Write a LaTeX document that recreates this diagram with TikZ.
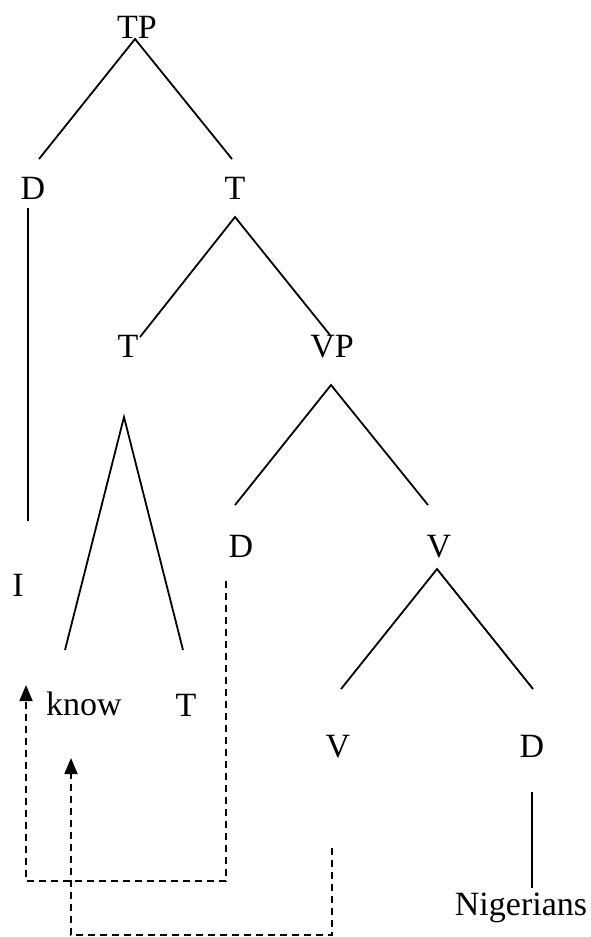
\documentclass[tikz,border=0pt]{standalone}
\usepackage{fontspec}
\setmainfont{Liberation Serif}
\usetikzlibrary{arrows.meta}
\begin{document}
\begin{tikzpicture}[x=1pt,y=-1pt,
  lab/.style={anchor=base,inner sep=0pt,font=\fontsize{34}{40}\selectfont},
  branch/.style={line width=1.8pt},
  movement/.style={line width=1.8pt,dash pattern=on 7pt off 5pt,-{Triangle[length=16pt,width=13pt]}}]
\useasboundingbox (0,0) rectangle (590,937);
% labels
\node[lab] (TP) at (137,38) {TP};
\node[lab] (D1) at (33,199) {D};
\node[lab] (T1) at (235,199) {T};
\node[lab] (T2) at (128,357) {T};
\node[lab] (VP) at (332,357) {VP};
\node[lab] (I) at (18,596) {I};
\node[lab] (D2) at (241,557) {D};
\node[lab] (V1) at (439,557) {V};
\node[lab] (know) at (84,715) {know};
\node[lab] (T3) at (186,716) {T};
\node[lab] (V2) at (338,757) {V};
\node[lab] (D3) at (532,757) {D};
\node[lab] (Nig) at (521,915) {Nigerians};
% branch points
\coordinate (TPa) at (135,39);
\coordinate (D1t) at (39,159);
\coordinate (T1t) at (232,159);
\coordinate (D1b) at (28,208);
\coordinate (It) at (28,521);
\coordinate (T1a) at (235,217);
\coordinate (T2t) at (140,337);
\coordinate (VPt) at (330,335);
\coordinate (T2a) at (124,417);
\coordinate (knowt) at (65,650);
\coordinate (T3t) at (183,650);
\coordinate (VPa) at (331,385);
\coordinate (D2t) at (235,505);
\coordinate (V1t) at (428,505);
\coordinate (V1a) at (437,569);
\coordinate (V2t) at (341,689);
\coordinate (D3t) at (533,689);
\coordinate (D3b) at (532,792);
\coordinate (Nigt) at (532,888);
% movement path points
\coordinate (D2b) at (226,581);
\coordinate (m1) at (226,881);
\coordinate (m2) at (26,881);
\coordinate (Iarr) at (26,685);
\coordinate (V2b) at (332,848);
\coordinate (m3) at (332,935);
\coordinate (m4) at (71,935);
\coordinate (knowarr) at (71,758);
% branches
\draw[branch] (D1t) -- (TPa) -- (T1t);
\draw[branch] (D1b) -- (It);
\draw[branch] (T2t) -- (T1a) -- (VPt);
\draw[branch] (knowt) -- (T2a) -- (T3t);
\draw[branch] (D2t) -- (VPa) -- (V1t);
\draw[branch] (V2t) -- (V1a) -- (D3t);
\draw[branch] (D3b) -- (Nigt);
% movement arrows
\draw[movement] (D2b) -- (m1) -- (m2) -- (Iarr);
\draw[movement] (V2b) -- (m3) -- (m4) -- (knowarr);
\end{tikzpicture}
\end{document}
